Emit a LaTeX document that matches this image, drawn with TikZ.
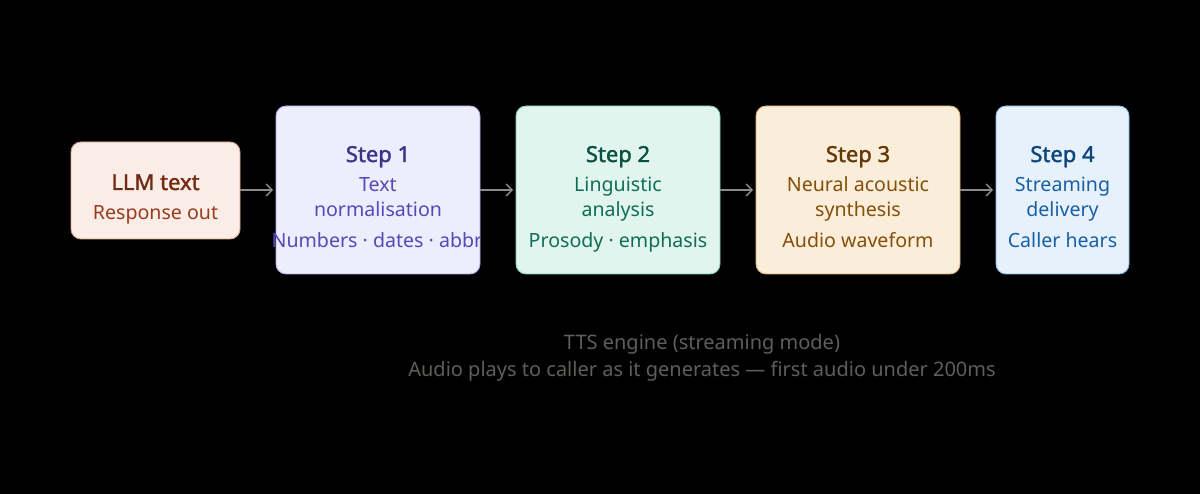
\documentclass[tikz,border=0pt]{standalone}
\usepackage{fontspec}
\setmainfont{Noto Sans}
\newfontfamily\ttlfont{Noto Sans}[FakeBold=1.6]
\usetikzlibrary{arrows.meta}
\definecolor{bg}{HTML}{000000}
\definecolor{arr}{HTML}{8A8A86}
\definecolor{capc}{HTML}{5F5E5A}
\definecolor{f0}{HTML}{FAECE7}\definecolor{d0}{HTML}{D8A48E}\definecolor{t0}{HTML}{712B13}\definecolor{s0}{HTML}{993C1D}
\definecolor{f1}{HTML}{EEEDFE}\definecolor{d1}{HTML}{AFA9EC}\definecolor{t1}{HTML}{3C3489}\definecolor{s1}{HTML}{534AB7}
\definecolor{f2}{HTML}{E1F5EE}\definecolor{d2}{HTML}{7FCBAF}\definecolor{t2}{HTML}{085041}\definecolor{s2}{HTML}{0F6E56}
\definecolor{f3}{HTML}{FAEEDA}\definecolor{d3}{HTML}{D9AD6E}\definecolor{t3}{HTML}{633806}\definecolor{s3}{HTML}{854F0B}
\definecolor{f4}{HTML}{E6F1FB}\definecolor{d4}{HTML}{85B7EB}\definecolor{t4}{HTML}{0C447C}\definecolor{s4}{HTML}{185FA5}
\tikzset{
  box/.style={draw=#1, line width=0.9pt, rounded corners=10pt, inner sep=0pt},
  ttl/.style={font=\fontsize{22}{26}\ttlfont, text=#1, anchor=base, inner sep=0pt},
  sub/.style={font=\fontsize{19.6}{23}\selectfont, text=#1, anchor=base, inner sep=0pt},
  captxt/.style={font=\fontsize{20}{24}\selectfont, text=capc, anchor=base, inner sep=0pt},
  conn/.style={draw=arr, line width=1.3pt, -{Straight Barb[length=6pt,width=12pt,line width=1.3pt]}}
}
\begin{document}
\begin{tikzpicture}[x=1pt,y=-1pt]
\useasboundingbox[fill=bg] (0,0) rectangle (1200,494);
% boxes
\draw[box=d0, fill=f0] (71,142) rectangle (240,239);
\coordinate (b0e) at (240,190);
\draw[box=d1, fill=f1] (276,106) rectangle (480,274);
\coordinate (b1w) at (276,190);\coordinate (b1e) at (480,190);
\draw[box=d2, fill=f2] (516,106) rectangle (720,274);
\coordinate (b2w) at (516,190);\coordinate (b2e) at (720,190);
\draw[box=d3, fill=f3] (756,106) rectangle (960,274);
\coordinate (b3w) at (756,190);\coordinate (b3e) at (960,190);
\draw[box=d4, fill=f4] (996,106) rectangle (1129,274);
\coordinate (b4w) at (996,190);
% texts
\node[ttl=t0] (l0a) at (155.5,190) {LLM text};
\node[sub=s0] (l0b) at (155.5,220) {Response out};
\node[ttl=t1] (l1a) at (378,162) {Step 1};
\node[sub=s1] (l1b) at (378,192) {Text};
\node[sub=s1] (l1c) at (378,217) {normalisation};
\begin{scope}
\clip (0,0) rectangle (479,494);
\node[sub=s1] (l1d) at (378,248) {Numbers · dates · abbr.};
\end{scope}
\node[ttl=t2] (l2a) at (618,162) {Step 2};
\node[sub=s2] (l2b) at (618,192) {Linguistic};
\node[sub=s2] (l2c) at (618,217) {analysis};
\node[sub=s2] (l2d) at (618,248) {Prosody · emphasis};
\node[ttl=t3] (l3a) at (858,162) {Step 3};
\node[sub=s3] (l3b) at (858,192) {Neural acoustic};
\node[sub=s3] (l3c) at (858,217) {synthesis};
\node[sub=s3] (l3d) at (858,248) {Audio waveform};
\node[ttl=t4] (l4a) at (1062.5,162) {Step 4};
\node[sub=s4] (l4b) at (1062.5,192) {Streaming};
\node[sub=s4] (l4c) at (1062.5,217) {delivery};
\node[sub=s4] (l4d) at (1062.5,248) {Caller hears};
% connectors
\draw[conn] (b0e) -- ([xshift=-3pt]b1w);
\draw[conn] (b1e) -- ([xshift=-3pt]b2w);
\draw[conn] (b2e) -- ([xshift=-3pt]b3w);
\draw[conn] (b3e) -- ([xshift=-3pt]b4w);
% caption
\node[captxt] (c1) at (702,350) {TTS engine (streaming mode)};
\node[captxt] (c2) at (702,377) {Audio plays to caller as it generates — first audio under 200ms};
\end{tikzpicture}
\end{document}
